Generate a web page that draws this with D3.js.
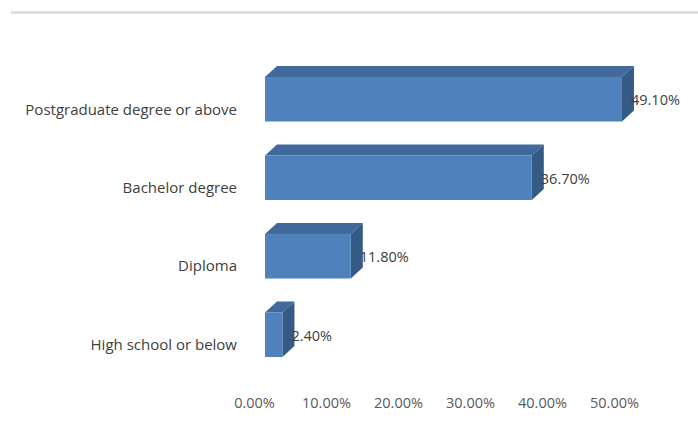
<!DOCTYPE html>
<html>
<head>
<meta charset="utf-8">
<script src="https://cdn.jsdelivr.net/npm/d3@7"></script>
<style>
  html, body { margin: 0; padding: 0; background: #ffffff; }
  svg { display: block; }
  text { font-family: "Open Sans", Lato, sans-serif; }
</style>
</head>
<body>
<svg id="chart" width="698" height="428"></svg>
<script>
// Education level shares
const categories = ["Postgraduate degree or above", "Bachelor degree", "Diploma", "High school or below"];
const values = [0.491, 0.367, 0.118, 0.024];
const valueLabels = ["49.10%", "36.70%", "11.80%", "2.40%"];
const tickValues = [0, 0.1, 0.2, 0.3, 0.4, 0.5];

const W = 698, H = 428;
const svg = d3.select("#chart");

// bar depth for the 3D extrusion
const depthX = 12, depthY = 11;

const x = d3.scaleLinear().domain([0, 0.5]).range([265, 628.5]);
// axis sits on the front edge of the floor, slightly shifted by the projection
const xAxisScale = d3.scaleLinear().domain([0, 0.5]).range([254, 614]);
const y = d3.scaleBand().domain(categories).range([77, 357]).paddingInner(0.433).paddingOuter(0);

// top border line
svg.append("line")
  .attr("x1", 11).attr("x2", W)
  .attr("y1", 12.5).attr("y2", 12.5)
  .attr("stroke", "#d9d9d9").attr("stroke-width", 2.5);

const colFront = "#4f81bd", colTop = "#41699b", colSide = "#355a86";

const rows = categories.map((c, i) => ({ cat: c, v: values[i], label: valueLabels[i] }));
const g = svg.append("g");

const bar = g.selectAll("g.bar").data(rows).join("g").attr("class", "bar");

// top face
bar.append("path")
  .attr("fill", colTop)
  .attr("d", d => {
    const x0 = x(0), x1 = x(d.v), y0 = y(d.cat);
    return `M${x0},${y0}L${x0 + depthX},${y0 - depthY}L${x1 + depthX},${y0 - depthY}L${x1},${y0}Z`;
  });

// side face
bar.append("path")
  .attr("fill", colSide)
  .attr("d", d => {
    const x1 = x(d.v), y0 = y(d.cat), y1 = y0 + y.bandwidth();
    return `M${x1},${y0}L${x1 + depthX},${y0 - depthY}L${x1 + depthX},${y1 - depthY}L${x1},${y1}Z`;
  });

// front face
bar.append("rect")
  .attr("fill", colFront)
  .attr("x", x(0))
  .attr("y", d => y(d.cat))
  .attr("width", d => x(d.v) - x(0))
  .attr("height", y.bandwidth());

// value labels
bar.append("text")
  .attr("x", d => x(d.v) + 9)
  .attr("y", d => y(d.cat) + y.bandwidth() / 2 + 1)
  .attr("dy", "0.35em")
  .attr("font-size", 14.5)
  .attr("fill", "#404040")
  .text(d => d.label);

// category labels
svg.append("g").selectAll("text").data(categories).join("text")
  .attr("x", 237)
  .attr("y", d => y(d) + y.bandwidth() / 2 + 10)
  .attr("dy", "0.35em")
  .attr("text-anchor", "end")
  .attr("font-size", 15)
  .attr("fill", "#404040")
  .text(d => d);

// value axis
const axis = d3.axisBottom(xAxisScale)
  .tickValues(tickValues)
  .tickFormat(d3.format(".2%"))
  .tickSize(0)
  .tickPadding(0);

const ax = svg.append("g").attr("transform", "translate(0,398)").call(axis);
ax.select(".domain").remove();
ax.selectAll("text")
  .attr("font-family", "'Open Sans', Lato, sans-serif")
  .attr("font-size", 14.5)
  .attr("fill", "#595959");
</script>
</body>
</html>
